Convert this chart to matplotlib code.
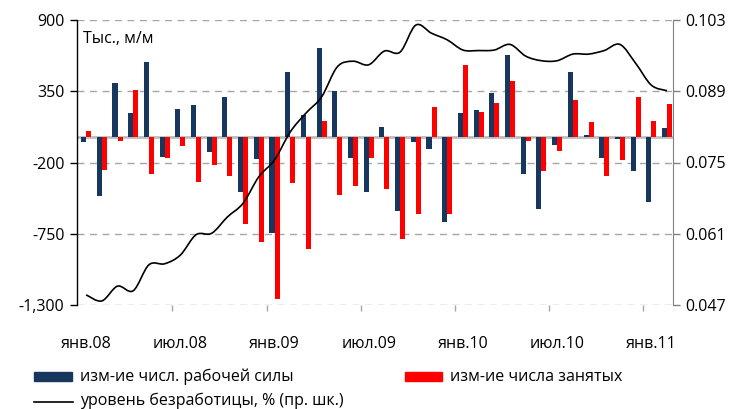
import matplotlib
matplotlib.use("Agg")
import matplotlib.pyplot as plt
import numpy as np
from matplotlib.patches import Rectangle, PathPatch
from matplotlib.path import Path
from matplotlib.lines import Line2D
from matplotlib.ticker import FuncFormatter

plt.rcParams['font.family'] = ['Open Sans', 'DejaVu Sans']

# Monthly data, Jan 2008 - Feb 2011
labor_force = [-40, -456, 414, 183, 577, -154, 214, 244, -116, 306,
               -425, -170, -741, 499, 167, 685, 353, -162, -425, 75,
               -571, -39, -93, -656, 183, 206, 337, 631, -286, -556,
               -62, 499, 13, -162, -15, -263, -502, 69]
employed = [44, -255, -31, 360, -286, -162, -69, -347, -216, -301,
            -672, -811, -1251, -355, -865, 121, -448, -378, -162, -401,
            -787, -594, 229, -594, 553, 190, 260, 430, -31, -263,
            -108, 283, 113, -301, -178, 306, 121, 252]
unemployment = [0.0490, 0.0478, 0.0507, 0.0498, 0.0549, 0.0551, 0.0568, 0.0608,
                0.0611, 0.0643, 0.0670, 0.0722, 0.0755, 0.0810, 0.0847, 0.0879,
                0.0938, 0.0949, 0.0942, 0.0969, 0.0967, 0.1020, 0.1004, 0.0991,
                0.0971, 0.0970, 0.0971, 0.0982, 0.0959, 0.0950, 0.0950, 0.0963,
                0.0963, 0.0970, 0.0982, 0.0945, 0.0902, 0.0891]
tick_labels = ['янв.08', 'июл.08', 'янв.09', 'июл.09', 'янв.10', 'июл.10', 'янв.11']
left_ticks = [-1300, -750, -200, 350, 900]
right_ticks = [0.047, 0.061, 0.075, 0.089, 0.103]

navy = '#17375E'
red = '#FF0000'

fig = plt.figure(figsize=(7.33, 4.09), dpi=100)
ax = fig.add_axes([77/733, 1-305/409, (673-77)/733, 285/409])

x = np.arange(len(labor_force))
w = 0.32
ax.bar(x - w/2, labor_force, width=w, color=navy, zorder=3)
ax.bar(x + w/2, employed, width=w, color=red, zorder=3)

ax.set_ylim(-1300, 900)
ax.set_xlim(-0.58, len(x) - 0.62)
ax.set_yticks(left_ticks)
ax.yaxis.set_major_formatter(FuncFormatter(lambda v, p: f"{v:,.0f}"))
ax.grid(axis='y', color='#A6A6A6', linestyle=(0, (5, 4)), linewidth=1.0, zorder=0)
ax.axhline(0, color='#BDBDBD', linewidth=2.0, zorder=2)

for s in ['top', 'right', 'bottom']:
    ax.spines[s].set_visible(False)
ax.spines['left'].set_color('black')
ax.spines['left'].set_linewidth(1.0)
ax.tick_params(axis='y', direction='out', length=5, width=1, color='black',
               labelsize=11.5, pad=4)

ax.set_xticks(np.arange(0, len(x), 6))
ax.set_xticklabels(tick_labels)
ax.tick_params(axis='x', length=0, labelsize=11.5, pad=22)

# small boundary ticks on zero line
sec = ax.secondary_xaxis(0)
sec.set_xticks(np.arange(5.5, len(x), 6))
sec.set_xticklabels([])
sec.tick_params(axis='x', direction='out', length=4, width=1, color='#A6A6A6')
sec.spines['bottom'].set_visible(False)

ax.text(0.01, 0.935, 'Тыс., м/м', transform=ax.transAxes, fontsize=11.5,
        ha='left', va='center', zorder=5)

ax2 = ax.twinx()
ax2.set_ylim(0.047, 0.103)

# smoothed line (Bezier segments through the monthly points, like a spreadsheet smoothed line)
pts = np.column_stack([x, unemployment]).astype(float)
verts = [pts[0]]
codes = [Path.MOVETO]
n = len(pts)
for i in range(n - 1):
    p0 = pts[i - 1] if i > 0 else pts[i]
    p1 = pts[i]
    p2 = pts[i + 1]
    p3 = pts[i + 2] if i + 2 < n else pts[i + 1]
    c1 = p1 + (p2 - p0) / 6.0
    c2 = p2 - (p3 - p1) / 6.0
    verts += [c1, c2, p2]
    codes += [Path.CURVE4, Path.CURVE4, Path.CURVE4]
ax2.add_patch(PathPatch(Path(verts, codes), facecolor='none', edgecolor='black',
                        linewidth=1.2, zorder=4))

ax2.set_yticks(right_ticks)
ax2.yaxis.set_major_formatter(FuncFormatter(lambda v, p: f"{v:.3f}"))
for s in ['top', 'left', 'bottom']:
    ax2.spines[s].set_visible(False)
ax2.spines['right'].set_color('#808080')
ax2.tick_params(axis='y', direction='out', length=5, width=1, color='#808080',
                labelsize=11.5, pad=4)

# legend
fig.add_artist(Rectangle((34/733, 1-381/409), 38/733, 9/409, transform=fig.transFigure,
                         color=navy))
fig.text(80/733, 1-377/409, 'изм-ие числ. рабочей силы', fontsize=11.5, va='center', ha='left')
fig.add_artist(Rectangle((405/733, 1-381/409), 37/733, 9/409, transform=fig.transFigure,
                         color=red))
fig.text(450/733, 1-377/409, 'изм-ие числа занятых', fontsize=11.5, va='center', ha='left')
fig.add_artist(Line2D([34/733, 73/733], [1-402/409, 1-402/409], transform=fig.transFigure,
                      color='black', linewidth=1.2))
fig.text(80/733, 1-401/409, 'уровень безработицы, % (пр. шк.)', fontsize=11.5,
         va='center', ha='left')

fig.savefig('out.png', dpi=100)
